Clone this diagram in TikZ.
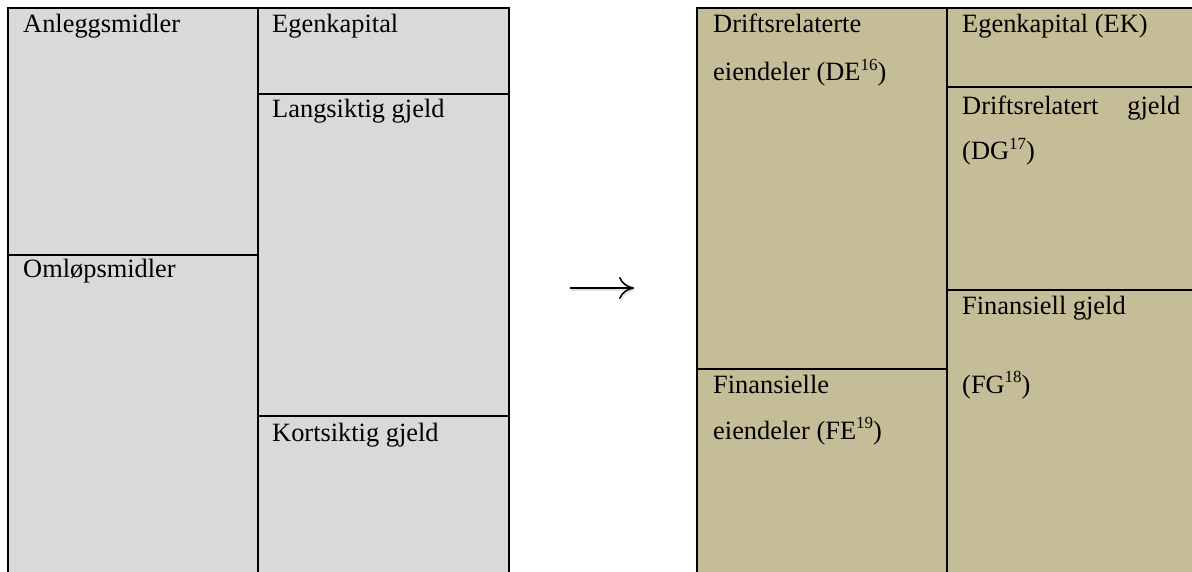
\documentclass[tikz,border=0pt]{standalone}
\usepackage{fontspec}
\setmainfont{Liberation Serif}
\usetikzlibrary{arrows.meta}
\definecolor{leftgray}{HTML}{D9D9D9}
\definecolor{righttan}{HTML}{C4BD97}
\newcommand{\supnum}[1]{\raisebox{0.38em}{\fontsize{17}{17}\selectfont #1}}
\tikzset{
  rule/.style={line width=2pt, black},
  label/.style={anchor=base west, inner sep=0pt, font=\fontsize{26.4}{30}\selectfont},
  shadowarrow/.style={line width=1.5pt, black!12, -{To[length=15pt,width=22pt]}},
  mainarrow/.style={line width=1.5pt, black, -{To[length=15pt,width=22pt]}}
}
\begin{document}
\begin{tikzpicture}[x=1pt,y=-1pt]
\useasboundingbox (0,0) rectangle (1192,572);
\fill[white] (0,0) rectangle (1192,572);
% left table
\fill[leftgray] (8,8) rectangle (509,572);
\draw[rule] (8,572) -- (8,8) -- (509,8) -- (509,572);
\draw[rule] (258,8) -- (258,572);
\draw[rule] (8,255) -- (258,255);
\draw[rule] (258,94) -- (509,94);
\draw[rule] (258,416) -- (509,416);
\node[label] (am) at (23,33) {Anleggsmidler};
\node[label] (om) at (23,278) {Omløpsmidler};
\node[label] (ek) at (272,33) {Egenkapital};
\node[label] (lg) at (272,118) {Langsiktig gjeld};
\node[label] (kg) at (272,441) {Kortsiktig gjeld};
% arrow
\coordinate (a1) at (570,288);
\coordinate (a2) at (634,288);
\coordinate (s1) at (571,290);
\coordinate (s2) at (635,290);
\draw[shadowarrow] (s1) -- (s2);
\draw[mainarrow] (a1) -- (a2);
% right table
\fill[righttan] (697,8) rectangle (1192,572);
\draw[rule] (697,572) -- (697,8) -- (1192,8);
\draw[rule] (947,8) -- (947,572);
\draw[rule] (947,87) -- (1192,87);
\draw[rule] (947,290) -- (1192,290);
\draw[rule] (697,369) -- (947,369);
\node[label] (de1) at (713,33) {Driftsrelaterte};
\node[label] (de2) at (713,81) {eiendeler (DE\supnum{16})};
\node[label] (rek) at (962,33) {Egenkapital (EK)};
\node[label] (dg1) at (962,115) {\makebox[218pt][s]{Driftsrelatert\hfill gjeld}};
\node[label] (dg2) at (962,160) {(DG\supnum{17})};
\node[label] (fg1) at (962,315) {Finansiell gjeld};
\node[label] (fg2) at (962,393) {(FG\supnum{18})};
\node[label] (fe1) at (713,393) {Finansielle};
\node[label] (fe2) at (713,439) {eiendeler (FE\supnum{19})};
\end{tikzpicture}
\end{document}
